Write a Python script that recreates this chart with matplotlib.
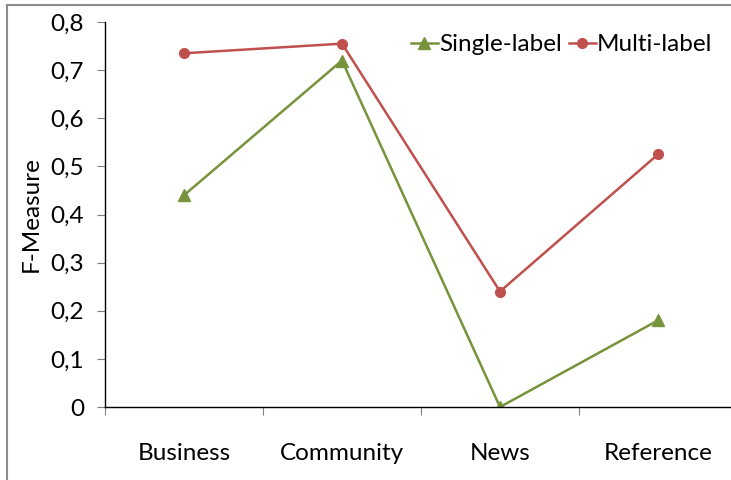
import matplotlib
matplotlib.use('Agg')
import matplotlib.pyplot as plt
from matplotlib.lines import Line2D
from matplotlib.ticker import FuncFormatter
import numpy as np

categories = ['Business', 'Community', 'News', 'Reference']
single_label = [0.44, 0.72, 0.0, 0.18]
multi_label = [0.735, 0.755, 0.24, 0.525]

green = '#77933C'
red = '#C0504D'
fs = 17.5

plt.rcParams['font.family'] = ['Lato', 'DejaVu Sans']

fig = plt.figure(figsize=(7.31, 4.80), dpi=100)
ax = fig.add_axes([105 / 731, 73 / 480, 632 / 731, 385 / 480])

x = np.arange(len(categories))
ax.plot(x, single_label, color=green, lw=1.8, marker='^', ms=8, label='Single-label')
ax.plot(x, multi_label, color=red, lw=1.8, marker='o', ms=7, label='Multi-label')

ax.set_xlim(-0.5, len(categories) - 0.5)
ax.set_ylim(0, 0.8)
ax.set_yticks(np.arange(0, 0.81, 0.1))
ax.yaxis.set_major_formatter(FuncFormatter(lambda v, p: '0' if abs(v) < 1e-9 else f'{v:.1f}'.replace('.', ',')))
ax.tick_params(axis='y', direction='out', length=6, width=0.8, color='#808080', pad=9, labelsize=fs)

# category boundaries carry the ticks, labels sit in the middle
ax.set_xticks(np.arange(-0.5, len(categories), 1.0))
ax.set_xticklabels([])
ax.set_xticks(x, minor=True)
ax.set_xticklabels(categories, minor=True)
ax.tick_params(axis='x', which='major', direction='out', length=6, width=0.8, color='#808080')
ax.tick_params(axis='x', which='minor', length=0, pad=26, labelsize=fs)

ax.spines['top'].set_visible(False)
ax.spines['right'].set_visible(False)
ax.spines['left'].set_linewidth(1.0)
ax.spines['bottom'].set_linewidth(1.0)
ax.patch.set_alpha(0)

ax.set_ylabel('F-Measure', fontsize=fs)
ax.yaxis.set_label_coords(-0.10, 0.5)

ax.legend(loc='upper right', bbox_to_anchor=(0.98, 1.0), ncol=2, frameon=False,
          fontsize=fs, handlelength=1.1, handletextpad=0.05, columnspacing=0.3,
          borderaxespad=0.1)

# thin outer frame of the chart area
fig.add_artist(Line2D([7 / 731, 1], [1 - 5 / 480, 1 - 5 / 480], color='#8c8c8c', lw=1.5, transform=fig.transFigure))
fig.add_artist(Line2D([7 / 731, 7 / 731], [0, 1 - 5 / 480], color='#8c8c8c', lw=1.5, transform=fig.transFigure))

fig.savefig('out.png', dpi=100)
